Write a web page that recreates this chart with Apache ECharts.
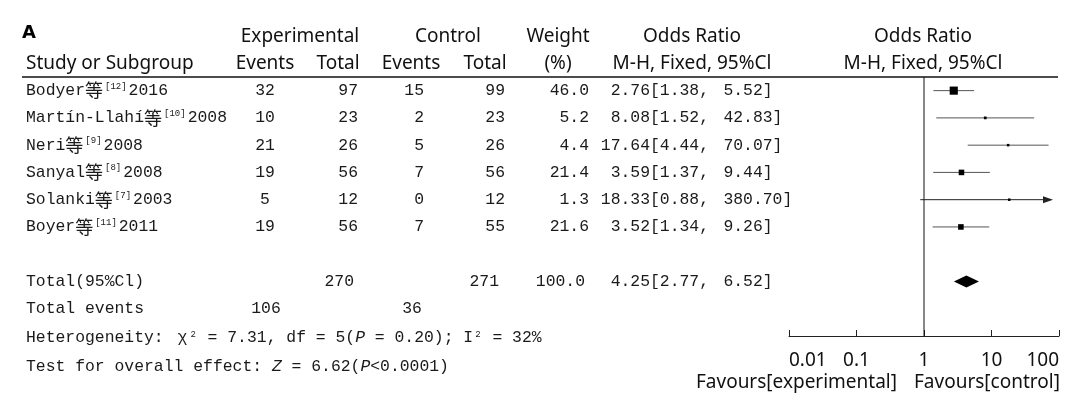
<!DOCTYPE html>
<html><head><meta charset="utf-8">
<script src="https://cdn.jsdelivr.net/npm/echarts@6/dist/echarts.min.js"></script>
<style>html,body{margin:0;padding:0;background:#fff}#c{width:1080px;height:407px}</style>
</head><body><div id="c"></div>
<script>
// ---------- data ----------
const studies = ['Bodyer', 'Martín-Llahí', 'Neri', 'Sanyal', 'Solanki', 'Boyer'];
const refs = ['[12]', '[10]', '[9]', '[8]', '[7]', '[11]'];
const years = ['2016', '2008', '2008', '2008', '2003', '2011'];
const expEvents = [32, 10, 21, 19, 5, 19];
const expTotal = [97, 23, 26, 56, 12, 56];
const ctlEvents = [15, 2, 5, 7, 0, 7];
const ctlTotal = [99, 23, 26, 56, 12, 55];
const weights = [46.0, 5.2, 4.4, 21.4, 1.3, 21.6];
const oddsRatio = [2.76, 8.08, 17.64, 3.59, 18.33, 3.52];
const ciLow = [1.38, 1.52, 4.44, 1.37, 0.88, 1.34];
const ciHigh = [5.52, 42.83, 70.07, 9.44, 380.70, 9.26];
const pooledOR = [4.25];
const pooledLow = [2.77];
const pooledHigh = [6.52];
const totalExp = 270, totalCtl = 271, totalWeight = 100.0;
const totalExpEvents = 106, totalCtlEvents = 36;
const hetChi2 = 7.31, hetDf = 5, hetP = '0.20', hetI2 = 32;
const overallZ = 6.62, overallP = '<0.0001';
const xAxisMin = 0.01, xAxisMax = 100;

// ---------- layout / style ----------
const MONO = "'Liberation Mono','DejaVu Sans Mono',monospace";
const SANS = "'Noto Sans','Open Sans',sans-serif";
const CJK = "'Noto Sans CJK SC',sans-serif";
const TXT = '#1a1a1a';
const FS = 16.4;
const ROW_TOTAL = 7, ROW_EVENTS = 8, ROW_HET = 9, ROW_TEST = 10;

const chart = echarts.init(document.getElementById('c'));

const studyData = studies.map((s, i) => [oddsRatio[i], i, ciLow[i], ciHigh[i], weights[i]]);
const pooledData = pooledOR.map((v, i) => [v, ROW_TOTAL, pooledLow[i], pooledHigh[i]]);

function renderStudy(params, api) {
  const or = api.value(0), row = api.value(1), lo = api.value(2), hi = api.value(3), w = api.value(4);
  const c = api.coord([or, row]);
  const a = api.coord([Math.max(lo, xAxisMin), row]);
  const clipped = hi > xAxisMax;
  const b = api.coord([Math.min(hi, xAxisMax), row]);
  const tip = clipped ? b[0] - 6 : b[0];
  const side = Math.max(2.5, 1.2 * Math.sqrt(w));
  const children = [
    { type: 'line', shape: { x1: a[0], y1: c[1], x2: clipped ? tip - 8 : tip, y2: c[1] },
      style: { stroke: clipped ? '#222' : '#555', lineWidth: 1 } },
    { type: 'rect', shape: { x: c[0] - side / 2, y: c[1] - side / 2, width: side, height: side },
      style: { fill: '#000' } }
  ];
  if (clipped) {
    children.push({ type: 'polygon', shape: { points: [[tip, c[1]], [tip - 10, c[1] - 3.5], [tip - 10, c[1] + 3.5]] },
      style: { fill: '#222' } });
  }
  return { type: 'group', children };
}

function renderDiamond(params, api) {
  const or = api.value(0), row = api.value(1), lo = api.value(2), hi = api.value(3);
  const c = api.coord([or, row]);
  const a = api.coord([lo, row]);
  const b = api.coord([hi, row]);
  return { type: 'polygon', shape: { points: [[a[0], c[1]], [c[0], c[1] - 6], [b[0], c[1]], [c[0], c[1] + 6]] },
    style: { fill: '#000' } };
}

chart.setOption({
  animation: false,
  backgroundColor: '#fff',
  grid: { left: 789, right: 21, top: 77, bottom: 71 },
  xAxis: {
    type: 'log', logBase: 10, min: xAxisMin, max: xAxisMax, splitNumber: 4,
    axisLine: { show: true, onZero: false, lineStyle: { color: '#222', width: 1 } },
    axisTick: { show: true, inside: true, length: 6, lineStyle: { color: '#222' } },
    axisLabel: { fontFamily: SANS, fontSize: 19, color: '#111', margin: 15,
      alignMinLabel: 'left', alignMaxLabel: 'right',
      formatter: v => String(+(+v).toPrecision(6)) },
    splitLine: { show: false }
  },
  yAxis: { type: 'value', inverse: true, min: -0.5, max: 9, show: false },
  series: [
    { type: 'line', data: [[1, -0.5], [1, 9]], symbol: 'none', silent: true,
      lineStyle: { color: '#111', width: 1 }, z: 1 },
    { type: 'custom', data: studyData, renderItem: renderStudy, encode: { x: 0, y: 1 }, z: 3, clip: false },
    { type: 'custom', data: pooledData, renderItem: renderDiamond, encode: { x: 0, y: 1 }, z: 3 }
  ]
});

// ---------- table text ----------
const rowY = r => chart.convertToPixel({ yAxisIndex: 0 }, r);
const xPix = v => chart.convertToPixel({ xAxisIndex: 0 }, v);
const els = [];
function t(x, y, text, extra) {
  els.push({ type: 'text', x: x, y: y, silent: true,
    style: Object.assign({ text: text, align: 'left', verticalAlign: 'middle',
      fontFamily: MONO, fontSize: FS, fill: TXT }, extra || {}) });
}
const H = { fontFamily: SANS, fontSize: 19, fill: '#111', align: 'center' };

// headers
const yH1 = rowY(-2), yH2 = rowY(-1);
t(22, yH1 - 3, 'A', { fontFamily: "'DejaVu Sans',sans-serif", fontWeight: 'bold', fontSize: 18, fill: '#000' });
t(300, yH1, 'Experimental', H);
t(448, yH1, 'Control', H);
t(558, yH1, 'Weight', H);
t(692, yH1, 'Odds Ratio', H);
t(923, yH1, 'Odds Ratio', H);
t(26, yH2, 'Study or Subgroup', Object.assign({}, H, { align: 'left' }));
t(265, yH2, 'Events', H);
t(338, yH2, 'Total', H);
t(411, yH2, 'Events', H);
t(485, yH2, 'Total', H);
t(558, yH2, '(%)', H);
t(692, yH2, 'M-H, Fixed, 95%Cl', H);
t(923, yH2, 'M-H, Fixed, 95%Cl', H);

// header rule
const yRule = rowY(-0.5);
els.push({ type: 'line', silent: true, shape: { x1: 22, y1: yRule, x2: 1058, y2: yRule },
  style: { stroke: '#111', lineWidth: 1.6 } });

const rich = {
  n: { fontFamily: MONO, fontSize: FS, fill: TXT },
  c: { fontFamily: CJK, fontSize: 18, fill: TXT },
  s: { fontFamily: MONO, fontSize: 9, fill: TXT, verticalAlign: 'top', padding: [0, 2, 0, 2] },
  g: { fontFamily: MONO, fontSize: FS, fill: TXT, padding: [0, 1, 0, 4] },
  gap: { fontFamily: MONO, fontSize: 8, fill: TXT },
  i: { fontFamily: MONO, fontSize: FS, fill: TXT, fontStyle: 'italic' }
};

function ciText(lo, hi) {
  return '{n|[' + lo.toFixed(2) + ',}{gap|   }{n|' + hi.toFixed(2) + ']}';
}

studies.forEach((s, i) => {
  const y = rowY(i);
  t(26, y, '{n|' + s + '}{c|等}{s|' + refs[i] + '}{n|' + years[i] + '}', { rich: rich });
  t(265, y, String(expEvents[i]), { align: 'center' });
  t(358, y, String(expTotal[i]), { align: 'right' });
  t(424, y, String(ctlEvents[i]), { align: 'right' });
  t(505, y, String(ctlTotal[i]), { align: 'right' });
  t(589, y, weights[i].toFixed(1), { align: 'right' });
  t(650, y, oddsRatio[i].toFixed(2), { align: 'right' });
  t(650, y, ciText(ciLow[i], ciHigh[i]), { align: 'left', rich: rich });
});

// totals
const yT = rowY(ROW_TOTAL);
t(26, yT, 'Total(95%Cl)');
t(354, yT, String(totalExp), { align: 'right' });
t(499, yT, String(totalCtl), { align: 'right' });
t(585, yT, totalWeight.toFixed(1), { align: 'right' });
t(650, yT, pooledOR[0].toFixed(2), { align: 'right' });
t(650, yT, ciText(pooledLow[0], pooledHigh[0]), { align: 'left', rich: rich });

const yE = rowY(ROW_EVENTS);
t(26, yE, 'Total events');
t(266, yE, String(totalExpEvents), { align: 'center' });
t(412, yE, String(totalCtlEvents), { align: 'center' });

t(26, rowY(ROW_HET) + 2,
  '{n|Heterogeneity: }{g|χ}{s|2}{n| = ' + hetChi2.toFixed(2) + ', df = ' + hetDf + '(}{i|P}{n| = ' + hetP + '); I}{s|2}{n| = ' + hetI2 + '%}',
  { rich: rich });
t(26, rowY(ROW_TEST) + 3,
  '{n|Test for overall effect: }{i|Z}{n| = ' + overallZ.toFixed(2) + '(}{i|P}{n|' + overallP + ')}',
  { rich: rich });

// favours labels
const x1 = xPix(1);
t(x1 - 27, 383, 'Favours[experimental]', Object.assign({}, H, { align: 'right' }));
t(x1 - 10, 383, 'Favours[control]', Object.assign({}, H, { align: 'left' }));

chart.setOption({ graphic: { elements: els } });
</script>
</body></html>
